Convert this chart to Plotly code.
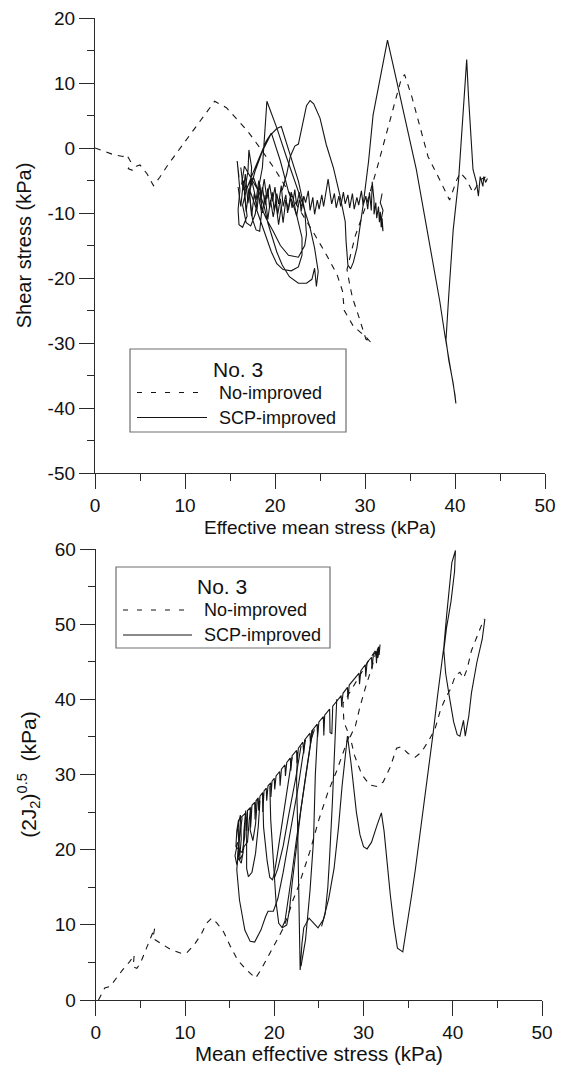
import plotly.graph_objects as go

W, H = 563, 1065

# ---------------- data ----------------
# Top panel: shear stress vs effective mean stress
top_no_improved = [
    (0.0, 0.0), (1.0, -0.5), (2.0, -1.0), (3.1, -1.3), (3.5, -1.0), (4.0, -2.2), (3.7, -3.2),
    (4.3, -3.5), (4.6, -2.8), (5.0, -2.6), (5.8, -4.0), (6.5, -5.8), (7.2, -4.5), (8.1, -2.6),
    (10.2, 1.3), (12.0, 4.6), (13.3, 7.2), (14.6, 6.2), (16.9, 2.7), (18.5, -0.3), (20.0, -3.3),
    (21.5, -6.7), (23.1, -10.3), (24.4, -13.3), (25.7, -16.4), (26.9, -19.5), (27.5, -22.0),
    (27.7, -25.0), (28.7, -27.4), (30.2, -29.2), (30.7, -30.0), (30.1, -29.4), (29.3, -25.9),
    (28.6, -23.0), (28.3, -21.0), (28.0, -18.7), (28.9, -13.6), (30.2, -8.5), (31.3, -3.3),
    (32.6, 3.3), (33.5, 7.9), (34.0, 10.5), (34.4, 11.3), (35.2, 7.9), (36.1, 3.3), (37.0, -1.3),
    (38.3, -4.9), (39.4, -8.0), (40.2, -4.9), (40.6, -3.8), (41.3, -4.9), (42.0, -6.9),
    (42.8, -4.9), (43.5, -4.4),
]

top_scp_cluster = [
    (16.0, -4.5), (15.8, -2.0), (16.1, -6.5), (15.9, -9.5), (16.0, -11.8), (16.4, -12.2),
    (16.9, -10.5), (16.6, -7.0), (17.0, -3.5), (17.1, -0.3), (17.4, -3.0), (17.2, -7.5),
    (17.5, -11.0), (17.9, -12.6), (18.3, -12.8), (18.5, -10.0), (18.1, -6.5), (17.6, -4.5),
    (16.9, -6.0), (16.4, -8.8), (16.8, -11.5), (17.3, -12.0), (17.8, -10.2), (18.2, -6.0),
    (18.6, -3.0), (19.1, 7.2), (20.2, 3.1), (21.3, -1.5), (22.2, -5.1), (23.1, -8.7),
    (23.9, -12.3), (24.4, -15.4), (24.8, -19.0), (24.6, -21.3), (24.4, -18.5), (24.1, -20.2),
    (23.5, -20.8), (22.6, -20.8), (21.6, -19.8), (20.8, -18.0), (20.2, -16.0), (19.7, -13.8),
    (19.2, -11.5), (18.8, -9.0), (18.3, -7.0), (17.7, -5.5), (17.2, -4.2), (16.6, -2.8),
    (16.3, -5.5), (16.8, -6.5), (17.5, -4.0), (18.4, -1.0), (19.0, 1.0), (19.6, 2.3),
    (20.6, -2.0), (21.5, -6.7), (22.4, -10.3), (23.0, -13.8), (23.0, -16.5), (22.6, -18.3),
    (21.8, -18.9), (20.9, -18.7), (20.2, -17.8), (19.6, -16.0), (19.2, -14.4), (18.7, -12.5),
    (18.2, -10.5), (17.6, -8.0), (17.2, -6.5), (17.8, -3.5), (18.6, -0.5), (19.5, 2.0),
    (20.2, 3.0), (20.7, 3.3), (21.7, -1.0), (22.6, -5.1), (23.3, -9.5), (23.5, -13.3),
    (23.3, -15.0), (22.6, -16.8), (21.5, -16.5), (20.6, -15.0), (19.8, -12.8), (19.0, -10.8),
    (18.3, -8.5),
]

top_scp_band = [
    (18.3, -8.5), (18.6, -6.0), (18.9, -8.8), (19.2, -6.2), (19.4, -9.2), (19.7, -6.8),
    (19.9, -9.6), (20.2, -7.0), (20.4, -8.6), (20.7, -5.8), (20.9, -9.0), (21.2, -7.2),
    (21.4, -10.0), (21.7, -7.6), (21.9, -9.2), (22.2, -6.4), (22.4, -8.8), (22.7, -6.8),
    (22.9, -9.8), (23.2, -7.4), (23.4, -8.4), (23.7, -6.6), (23.9, -9.6), (24.2, -7.6),
    (24.4, -10.2), (24.7, -8.0), (24.9, -9.4), (25.2, -7.2), (25.4, -9.0), (25.7, -6.4),
    (25.9, -4.8), (26.1, -6.8), (26.3, -8.6), (26.6, -7.0), (26.8, -9.2), (27.1, -7.4),
    (27.3, -9.0), (27.6, -6.8), (27.8, -8.6), (28.1, -7.2), (28.3, -9.2), (28.6, -7.0),
    (28.8, -9.4), (29.1, -7.6), (29.3, -8.8), (29.6, -6.6), (29.8, -8.8), (30.1, -7.4),
    (30.3, -9.4), (30.5, -6.8), (30.7, -9.6), (30.8, -5.2), (31.0, -8.0), (31.0, -10.2),
    (31.2, -8.4), (31.3, -10.8), (31.5, -9.0), (31.6, -11.4), (31.7, -9.8), (31.8, -12.2),
    (31.9, -10.8), (32.0, -12.8), (31.8, -11.0), (32.0, -9.6), (31.7, -8.4), (31.9, -7.0),
]

top_scp_band2 = [
    (16.2, -3.0), (16.5, -6.5), (16.7, -4.0), (17.0, -8.5), (17.3, -5.0), (17.5, -5.5),
    (17.9, -8.0), (18.2, -5.0), (18.5, -7.5), (18.8, -4.8), (19.1, -7.8), (19.4, -5.6),
    (19.7, -8.2), (20.0, -6.0), (20.3, -10.2), (20.6, -7.8), (20.9, -11.5), (21.2, -8.0),
    (21.5, -9.5), (21.8, -6.8), (22.1, -8.2), (22.4, -10.5), (22.7, -8.0), (23.0, -9.0),
]

top_scp_band3 = [
    (15.9, -6.0), (16.2, -9.0), (16.5, -5.0), (16.8, -9.8), (17.1, -6.2), (17.4, -10.5),
    (17.7, -7.0), (18.0, -9.5), (18.3, -5.5), (18.6, -10.0), (18.9, -7.2), (19.2, -11.0),
    (19.5, -8.0), (19.8, -10.6), (20.1, -8.4), (20.4, -11.8), (20.7, -9.0),
]

top_scp_right = [
    (20.8, -6.5), (21.3, -4.0), (21.7, -1.3), (22.2, 0.3), (22.6, 0.6), (23.0, 3.0),
    (23.5, 6.5), (23.9, 7.3), (24.3, 6.8), (25.0, 4.6), (25.7, 0.5), (26.5, -3.1),
    (27.2, -7.2), (27.8, -11.3), (27.9, -14.4), (28.1, -18.0), (28.4, -18.6), (28.7, -17.6),
    (29.1, -15.4), (29.8, -8.7), (30.4, -2.0), (30.9, 5.1), (31.7, 11.0), (32.5, 16.6),
    (33.2, 12.3), (33.9, 7.9), (34.8, 2.3), (35.7, -3.3), (36.6, -10.3), (37.6, -17.7),
    (38.3, -23.5), (38.9, -29.0), (39.6, -34.6), (40.0, -38.0), (40.1, -39.3), (39.8, -36.2),
    (39.3, -32.6), (39.0, -29.5), (39.3, -22.8), (39.8, -12.6), (40.4, -4.9), (40.9, 5.4),
    (41.3, 13.6), (41.5, 7.9), (41.9, -1.3), (42.0, -3.3), (42.4, -5.4), (42.6, -7.4),
    (42.8, -4.4), (43.1, -5.9), (43.2, -4.4), (43.4, -5.3), (43.6, -4.7),
]

# Bottom panel: (2J2)^0.5 vs mean effective stress
bot_no_improved = [
    (0.3, 0.0), (1.0, 1.6), (1.6, 1.8), (2.4, 3.1), (3.0, 4.0), (3.8, 5.1), (4.1, 5.6),
    (4.3, 6.0), (4.2, 4.4), (4.6, 4.2), (5.0, 4.9), (5.6, 6.7), (6.2, 8.4), (6.6, 9.6),
    (6.4, 8.2), (7.2, 7.6), (8.4, 6.7), (9.6, 6.2), (10.2, 6.3), (11.0, 7.3), (11.8, 8.7),
    (12.4, 10.2), (13.0, 10.9), (13.6, 10.2), (14.3, 9.1), (15.1, 7.1), (15.9, 5.3),
    (16.9, 4.0), (17.9, 2.9), (18.5, 4.0), (19.3, 5.8), (20.3, 8.0), (20.9, 9.3), (21.5, 11.1),
    (22.1, 13.3), (22.7, 15.1), (23.3, 17.3), (24.0, 19.8), (25.0, 24.0), (26.0, 27.6),
    (27.0, 30.5), (28.0, 34.0), (28.4, 35.2), (27.8, 37.0), (27.7, 39.5), (28.5, 41.0),
    (29.5, 43.0), (30.5, 45.0), (31.5, 46.8), (31.0, 44.5), (30.2, 41.5), (29.6, 39.0),
    (29.1, 36.5), (28.5, 35.0), (29.0, 32.5), (29.8, 30.0), (30.7, 28.6), (31.5, 28.4),
    (32.2, 29.0), (33.0, 31.0), (33.7, 33.5), (34.2, 33.7), (35.0, 32.8), (35.8, 32.3),
    (36.5, 33.0), (37.3, 34.5), (38.0, 36.0), (38.6, 38.5), (39.2, 40.2), (39.8, 41.5),
    (40.3, 43.2), (40.8, 43.6), (41.2, 42.8), (41.6, 44.0), (42.1, 46.5), (42.6, 48.0),
    (43.1, 49.5), (43.5, 50.7),
]

bot_scp_cluster = [
    (15.9, 21.0), (15.6, 19.2), (15.8, 18.0), (16.1, 19.8), (15.9, 23.0), (16.2, 24.6),
    (16.3, 21.5), (16.1, 18.6), (16.5, 19.5), (16.6, 22.5), (16.8, 25.2), (16.7, 21.8),
    (16.4, 19.6), (15.7, 20.4), (15.8, 22.5), (16.0, 24.0), (16.1, 21.8), (15.9, 19.0),
    (16.3, 18.2), (16.6, 20.4), (17.0, 21.0), (17.2, 24.0), (17.4, 25.7), (17.3, 22.6),
    (17.6, 21.2), (17.9, 23.4), (18.1, 26.6),
]

bot_scp_envelope = [
    (16.2, 24.2), (16.8, 24.9), (16.9, 22.5), (17.0, 25.2), (17.3, 25.6), (17.35, 23.0),
    (17.5, 25.9), (17.8, 26.3), (17.85, 24.0), (17.95, 26.5), (18.2, 26.9), (18.25, 25.2),
    (18.4, 27.1), (18.7, 27.6), (18.72, 25.0), (18.85, 27.8), (19.1, 28.2), (19.15, 26.5),
    (19.3, 28.5), (19.6, 28.9), (19.62, 27.0), (19.75, 29.1), (20.0, 29.5), (20.05, 28.0),
    (20.2, 29.8), (20.6, 30.4), (20.65, 28.5), (20.8, 30.7), (21.2, 31.3), (21.25, 29.8),
    (21.4, 31.6), (21.8, 32.2), (21.85, 30.5), (22.0, 32.5), (22.5, 33.2), (22.55, 31.5),
    (22.7, 33.5), (23.2, 34.3), (23.3, 32.8), (23.4, 34.6), (24.0, 35.5), (24.05, 34.0),
    (24.2, 35.8), (24.8, 36.7), (24.85, 35.0), (25.0, 37.0), (25.5, 37.7), (25.55, 35.2),
    (25.65, 37.9), (26.2, 38.7), (26.25, 35.6), (26.45, 35.4), (26.55, 39.1), (27.0, 39.8),
    (27.5, 40.5), (27.55, 39.0), (27.7, 40.8), (28.2, 41.6), (28.25, 40.0), (28.4, 41.9),
    (29.0, 42.8), (29.5, 43.5), (29.55, 42.0), (29.7, 43.8), (30.2, 44.6), (30.25, 43.0),
    (30.4, 44.9), (30.9, 45.6), (30.95, 44.0), (31.1, 45.9), (31.4, 46.4), (31.45, 44.8),
    (31.55, 46.6), (31.7, 47.0), (31.6, 45.5), (31.8, 46.8), (31.75, 45.9), (31.85, 47.3),
]

bot_scp_loop1 = [
    (16.4, 24.3), (16.0, 20.5), (15.8, 17.3), (16.1, 13.3), (16.7, 9.3), (17.3, 7.8),
    (17.8, 7.7), (18.5, 9.3), (19.0, 11.0), (19.3, 11.8), (19.9, 11.8), (20.4, 13.5),
    (21.0, 17.0), (21.6, 21.0), (22.2, 25.0), (22.7, 28.5), (23.2, 32.5), (23.5, 34.6),
]
bot_scp_loop2 = [
    (17.0, 25.2), (16.9, 21.5), (16.9, 17.5), (17.1, 16.4), (17.5, 17.0), (17.9, 19.5),
    (18.2, 23.0), (18.4, 26.5),
]
bot_scp_loop3 = [
    (18.7, 27.4), (18.8, 23.0), (19.2, 18.5), (19.5, 16.3), (19.8, 16.0), (20.0, 16.8),
    (20.3, 19.0), (20.8, 23.0), (21.3, 27.0), (21.7, 30.5), (22.0, 32.3),
]
bot_scp_loop4 = [
    (19.5, 28.5), (19.6, 24.0), (19.9, 18.5), (20.2, 13.0), (20.5, 10.2), (20.9, 9.6),
    (21.4, 10.0), (21.7, 12.0), (22.0, 15.5), (22.5, 20.5), (23.0, 25.5), (23.6, 30.5),
    (24.1, 34.5), (24.5, 36.0),
]
bot_scp_main = [
    (22.6, 33.0), (22.5, 29.3), (22.6, 24.0), (22.7, 17.3), (22.8, 11.0), (22.9, 4.0),
    (23.1, 7.5), (23.3, 9.6), (23.9, 10.9), (24.4, 10.2), (24.9, 9.6), (25.5, 10.7),
    (26.1, 13.5), (26.7, 17.5), (27.2, 23.0), (27.6, 28.5), (28.0, 33.0), (28.2, 35.1),
    (28.6, 31.5), (28.9, 28.5), (29.2, 25.0), (29.6, 22.0), (30.0, 20.4), (30.4, 20.1),
    (30.9, 21.0), (31.5, 23.2), (32.0, 24.9), (32.3, 22.5), (32.6, 18.5), (33.0, 14.0),
    (33.4, 10.0), (33.8, 6.9), (34.4, 6.4), (34.9, 10.0), (35.4, 14.0), (35.8, 17.3),
    (36.5, 23.5), (37.2, 30.0), (37.8, 35.5), (38.3, 40.5), (38.7, 44.0), (39.0, 47.0),
    (39.3, 51.0), (39.6, 55.0), (39.9, 58.2), (40.3, 59.8), (40.2, 57.0), (39.8, 53.0),
    (39.3, 49.5), (39.0, 46.5), (39.2, 43.5), (39.6, 40.5), (40.1, 37.0), (40.5, 35.3),
    (40.8, 35.1), (41.2, 37.2), (41.4, 35.1), (41.8, 37.8), (42.1, 40.9), (42.7, 44.9),
    (43.3, 48.0), (43.6, 50.7),
]
bot_scp_loop6 = [(24.9, 36.6), (24.6, 30.0), (24.4, 21.3), (24.0, 14.5), (23.5, 8.0), (23.0, 4.5)]
bot_scp_loop7 = [(27.0, 40.0), (26.8, 34.0), (26.5, 26.0), (26.2, 19.0), (26.0, 15.0), (25.7, 11.5), (25.3, 9.8)]
bot_scp_loop8 = [(23.0, 33.8), (22.4, 29.5), (21.6, 24.5), (21.0, 20.5), (20.4, 17.5), (20.0, 16.2)]
bot_scp_loop9 = [(24.3, 35.9), (23.7, 31.0), (23.1, 26.7), (22.5, 21.5), (22.0, 17.0), (21.6, 13.5), (21.2, 10.5), (20.9, 9.7)]

top_y_ticks = [-50, -40, -30, -20, -10, 0, 10, 20]
bot_y_ticks = [0, 10, 20, 30, 40, 50, 60]
x_ticks = [0, 10, 20, 30, 40, 50]

legend_title = "No. 3"
legend_names = ["No-improved", "SCP-improved"]


# ---------------- helpers ----------------
def join(*segs):
    xs, ys = [], []
    for i, s in enumerate(segs):
        if i:
            xs.append(None)
            ys.append(None)
        xs += [p[0] for p in s]
        ys += [p[1] for p in s]
    return xs, ys


def px(x):
    return x / W


def py(y):
    return 1 - y / H


INK = "#151515"
AX = "#2a2a2a"
FONT = "Arial, Liberation Sans, sans-serif"
DASH = "6px,6px"

fig = go.Figure()

tx, ty = join(top_no_improved)
fig.add_trace(go.Scatter(x=tx, y=ty, mode="lines", name=legend_names[0], showlegend=False,
                         line=dict(color=INK, width=1.1, dash=DASH), xaxis="x", yaxis="y"))
sx, sy = join(top_scp_cluster, top_scp_band, top_scp_band2, top_scp_band3, top_scp_right)
fig.add_trace(go.Scatter(x=sx, y=sy, mode="lines", name=legend_names[1], showlegend=False,
                         connectgaps=False, line=dict(color=INK, width=1.1), xaxis="x", yaxis="y"))

bx, by = join(bot_no_improved)
fig.add_trace(go.Scatter(x=bx, y=by, mode="lines", name=legend_names[0], showlegend=False,
                         line=dict(color=INK, width=1.1, dash=DASH), xaxis="x2", yaxis="y2"))
cx, cy = join(bot_scp_cluster, bot_scp_envelope, bot_scp_loop1, bot_scp_loop2, bot_scp_loop3,
              bot_scp_loop4, bot_scp_main, bot_scp_loop6, bot_scp_loop7, bot_scp_loop8, bot_scp_loop9)
fig.add_trace(go.Scatter(x=cx, y=cy, mode="lines", name=legend_names[1], showlegend=False,
                         connectgaps=False, line=dict(color=INK, width=1.1), xaxis="x2", yaxis="y2"))

common = dict(showgrid=False, zeroline=False, showline=True, linecolor=AX, linewidth=1.3,
              ticks="outside", ticklen=15, tickwidth=1.3, tickcolor=AX,
              tickfont=dict(family=FONT, size=19, color="#111"), automargin=False)
minor = dict(ticks="outside", ticklen=7, dtick=5, tick0=0, tickwidth=1.3, tickcolor=AX)

fig.update_layout(
    width=W, height=H, margin=dict(l=0, r=0, t=0, b=0),
    paper_bgcolor="white", plot_bgcolor="white", showlegend=False,
    font=dict(family=FONT, color="#111"),
    xaxis=dict(domain=[px(95), px(545)], anchor="y", range=[0, 50],
               tickvals=x_ticks, ticktext=[str(v) for v in x_ticks], minor=minor,
               title=dict(text="Effective mean stress (kPa)", font=dict(size=19), standoff=5),
               **common),
    yaxis=dict(domain=[py(473), py(18)], anchor="x", range=[-50, 20],
               tickvals=top_y_ticks, ticktext=[str(v) for v in top_y_ticks], minor=minor,
               title=dict(text="Shear stress (kPa)", font=dict(size=20), standoff=10),
               **common),
    xaxis2=dict(domain=[px(95.8), px(542)], anchor="y2", range=[0, 50],
                tickvals=x_ticks, ticktext=[str(v) for v in x_ticks], minor=minor,
                title=dict(text="Mean effective stress (kPa)", font=dict(size=20.5), standoff=2),
                **common),
    yaxis2=dict(domain=[py(1000), py(549)], anchor="x2", range=[0, 60],
                tickvals=bot_y_ticks, ticktext=[str(v) for v in bot_y_ticks], minor=minor,
                title=dict(text="(2J<sub>2</sub>)<sup>0.5</sup>  (kPa)", font=dict(size=21), standoff=12),
                **common),
)

# ---------------- legend boxes (page coordinates) ----------------
shapes = []
annotations = []
legend_boxes = [
    # box left, top, right, bottom, title centre x, title y, row1 y, row2 y, line x0, line x1, text x
    (130, 349, 346, 432, 238, 369, 392.5, 417.5, 137, 207, 217),
    (116, 567, 330, 648, 222, 586, 610, 635, 123, 192, 202),
]
for (l, t, r, b, tcx, tty, r1, r2, lx0, lx1, txx) in legend_boxes:
    shapes.append(dict(type="rect", xref="paper", yref="paper", x0=px(l), x1=px(r), y0=py(b), y1=py(t),
                       line=dict(color="#6f6f6f", width=1.2), fillcolor="rgba(255,255,255,1)", layer="above"))
    shapes.append(dict(type="line", xref="paper", yref="paper", x0=px(lx0), x1=px(lx1), y0=py(r1), y1=py(r1),
                       line=dict(color=INK, width=1.1, dash="5px,9px"), layer="above"))
    shapes.append(dict(type="line", xref="paper", yref="paper", x0=px(lx0), x1=px(lx1), y0=py(r2), y1=py(r2),
                       line=dict(color=INK, width=1.1), layer="above"))
    annotations.append(dict(text=legend_title, xref="paper", yref="paper", x=px(tcx), y=py(tty),
                            xanchor="center", yanchor="middle", showarrow=False,
                            font=dict(family=FONT, size=21, color="#111")))
    annotations.append(dict(text=legend_names[0], xref="paper", yref="paper", x=px(txx), y=py(r1),
                            xanchor="left", yanchor="middle", showarrow=False,
                            font=dict(family=FONT, size=18, color="#111")))
    annotations.append(dict(text=legend_names[1], xref="paper", yref="paper", x=px(txx), y=py(r2),
                            xanchor="left", yanchor="middle", showarrow=False,
                            font=dict(family=FONT, size=18, color="#111")))

fig.update_layout(shapes=shapes, annotations=annotations)

fig.write_html("out.html")
